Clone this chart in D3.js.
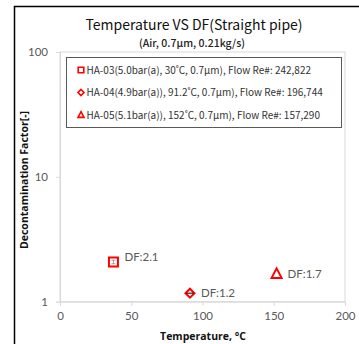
<!DOCTYPE html>
<html><head><meta charset="utf-8">
<script src="https://cdn.jsdelivr.net/npm/d3@7"></script>
<style>body{margin:0;background:#fff}svg{display:block}</style>
</head><body>
<svg id="c" width="359" height="344"></svg>
<script>
const seriesNames = [
  "HA-03(5.0bar(a), 30˚C, 0.7\u03bcm), Flow Re#: 242,822",
  "HA-04(4.9bar(a)), 91.2˚C, 0.7\u03bcm), Flow Re#: 196,744",
  "HA-05(5.1bar(a)), 152˚C, 0.7\u03bcm), Flow Re#: 157,290"
];
const temperatures = [37.5, 91.2, 152];
const dfValues = [2.08, 1.17, 1.67];
const dfLabels = ["DF:2.1", "DF:1.2", "DF:1.7"];
const markerShapes = ["square", "diamond", "triangle"];
const xTicks = [0, 50, 100, 150, 200];
const yTicks = [1, 10, 100];

const svg = d3.select("#c");
const W = 359, H = 344;
const m = {l: 60, r: 345, t: 52, b: 301.7};
const x = d3.scaleLinear().domain([0, 200]).range([m.l, m.r]);
const y = d3.scaleLog().domain([1, 100]).range([m.b, m.t]);

// outer black frame
svg.append("path").attr("d", `M14.5,${H} L14.5,6.5 L${W},6.5`)
  .attr("fill", "none").attr("stroke", "#000").attr("stroke-width", 1.5);

// plot frame
svg.append("rect").attr("x", m.l).attr("y", m.t).attr("width", m.r - m.l).attr("height", m.b - m.t)
  .attr("fill", "none").attr("stroke", "#d9d9d9").attr("stroke-width", 1);

// axes
const gx = svg.append("g").attr("transform", `translate(0,${m.b})`)
  .call(d3.axisBottom(x).tickValues(xTicks).tickSize(4).tickPadding(6).tickFormat(d3.format("d")));
const gy = svg.append("g").attr("transform", `translate(${m.l},0)`)
  .call(d3.axisLeft(y).tickValues(yTicks).tickSize(4).tickPadding(8).tickFormat(d3.format("d")));
[gx, gy].forEach(g => {
  g.select(".domain").attr("stroke", "#d9d9d9");
  g.selectAll(".tick line").attr("stroke", "#d9d9d9");
  g.selectAll(".tick text").attr("fill", "#595959").attr("font-family", "Lato, 'Open Sans', sans-serif").attr("font-size", 11.5);
});

// titles
svg.append("text").attr("x", 194).attr("y", 30).attr("text-anchor", "middle")
  .attr("font-family", "'Noto Sans CJK KR', 'Noto Sans', sans-serif").attr("font-size", 14).attr("fill", "#111")
  .text("Temperature VS DF(Straight pipe)");
svg.append("text").attr("x", 192).attr("y", 47).attr("text-anchor", "middle")
  .attr("font-family", "'Noto Sans CJK KR', 'Noto Sans', sans-serif").attr("font-size", 10.5).attr("font-weight", 500).attr("fill", "#222")
  .text("(Air, 0.7\u03bcm, 0.21kg/s)");
svg.append("text").attr("transform", "translate(28,180) rotate(-90)").attr("text-anchor", "middle")
  .attr("font-family", "'Open Sans', 'Noto Sans', sans-serif").attr("font-size", 10.5).attr("font-weight", "bold").attr("fill", "#111")
  .text("Decontamination Factor[-]");
svg.append("text").attr("x", 203).attr("y", 340).attr("text-anchor", "middle")
  .attr("font-family", "'Open Sans', 'Noto Sans', sans-serif").attr("font-size", 10.5).attr("font-weight", "bold").attr("fill", "#111")
  .text("Temperature, \u00b0C");

function markerPath(shape, s) {
  if (shape === "square") return `M${-s},${-s}H${s}V${s}H${-s}Z`;
  if (shape === "diamond") return `M0,${-s}L${s},0L0,${s}L${-s},0Z`;
  return `M0,${-s*1.1}L${s},${s*0.8}L${-s},${s*0.8}Z`;
}

// data points
const pts = svg.append("g");
temperatures.forEach((t, i) => {
  const g = pts.append("g").attr("transform", `translate(${x(t)},${y(dfValues[i])})`);
  const sh = markerShapes[i];
  const s = sh === "square" ? 4.5 : sh === "diamond" ? 4.5 : 5;
  g.append("path").attr("d", markerPath(sh, s)).attr("fill", "#fff").attr("stroke", "#ff0000").attr("stroke-width", 2);
  if (sh === "square") {
    g.append("path").attr("d", "M-2,-1.8H2M0,-1.8V1.8M-2,1.8H2").attr("stroke", "#888").attr("stroke-width", 0.8);
  } else if (sh === "diamond") {
    g.append("path").attr("d", "M-3.5,0H3.5").attr("stroke", "#000").attr("stroke-width", 1);
  }
  const dy = sh === "square" ? -5 : 0;
  svg.append("text").attr("x", x(t) + 11).attr("y", y(dfValues[i]) + dy).attr("dy", "0.35em")
    .attr("font-family", "Lato, 'Open Sans', sans-serif").attr("font-size", 11.5).attr("fill", "#595959")
    .text(dfLabels[i]);
});

// legend
const lg = svg.append("g");
lg.append("rect").attr("x", 66.5).attr("y", 57.5).attr("width", 275).attr("height", 70)
  .attr("fill", "#fff").attr("stroke", "#595959").attr("stroke-width", 1);
seriesNames.forEach((n, i) => {
  const yy = 70 + i * 22.5;
  const sh = markerShapes[i];
  lg.append("path").attr("transform", `translate(81,${yy})`).attr("d", markerPath(sh, sh === "square" ? 2.8 : 3))
    .attr("fill", "#fff").attr("stroke", "#ff0000").attr("stroke-width", 1.6);
  lg.append("text").attr("x", 86.5).attr("y", yy).attr("dy", "0.35em")
    .attr("font-family", "'Noto Sans CJK KR', 'Noto Sans', sans-serif").attr("font-size", 10).attr("fill", "#333")
    .text(n);
});
</script>
</body></html>
